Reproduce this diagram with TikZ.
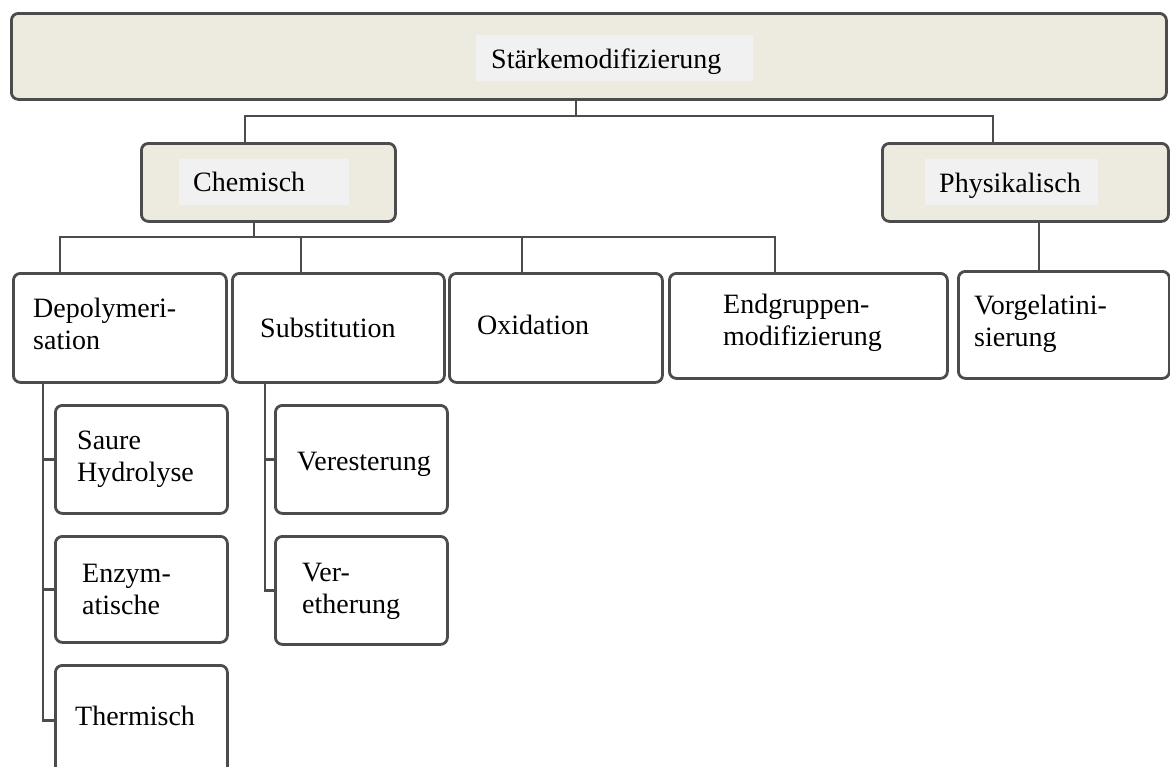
\documentclass[tikz,border=0pt]{standalone}
\usepackage{fontspec}
\setmainfont{Liberation Serif}
\definecolor{lineC}{HTML}{4C4C4C}
\definecolor{beige}{HTML}{EDEADF}
\definecolor{lblbg}{HTML}{F1F1F1}
\begin{document}
\begin{tikzpicture}[x=1pt,y=-1pt,
  box/.style={draw=lineC, line width=2.8pt, rounded corners=7pt, fill=white, anchor=north west, inner sep=0pt},
  headbox/.style={box, fill=beige},
  lblbox/.style={fill=lblbg, anchor=north west, inner sep=0pt},
  txt/.style={anchor=west, align=left, inner sep=0pt, font=\fontsize{28}{32}\selectfont},
  conn/.style={draw=lineC, line width=2.8pt}]
\useasboundingbox (0,0) rectangle (1170,766);
\fill[white] (0,0) rectangle (1170,766);

% level 1
\node[headbox, minimum width=1155, minimum height=86] (top) at (10,12) {};
\node[lblbox, minimum width=277, minimum height=46] (topL) at (476,35) {};
\node[txt] (topT) at ([xshift=15pt,yshift=-3pt]topL.west) {Stärkemodifizierung};

% level 2
\node[headbox, minimum width=254, minimum height=78] (chem) at (140,142) {};
\node[lblbox, minimum width=170, minimum height=46] (chemL) at (179,159) {};
\node[txt] (chemT) at ([xshift=14pt]chemL.west) {Chemisch};

\node[headbox, minimum width=286, minimum height=78] (phys) at (881,142) {};
\node[lblbox, minimum width=173, minimum height=46] (physL) at (925,159) {};
\node[txt] (physT) at ([xshift=14pt,yshift=-4pt]physL.west) {Physikalisch};

% level 3
\node[box, minimum width=213, minimum height=109] (depol) at (12,272) {};
\node[txt] (depolT) at ([xshift=21pt,yshift=4pt]depol.west) {Depolymeri-\\sation};
\node[box, minimum width=212, minimum height=109] (subst) at (231,272) {};
\node[txt] (substT) at ([xshift=29pt]subst.west) {Substitution};
\node[box, minimum width=213, minimum height=109] (oxid) at (448,272) {};
\node[txt] (oxidT) at ([xshift=29pt,yshift=3pt]oxid.west) {Oxidation};
\node[box, minimum width=278, minimum height=105] (endg) at (668,272) {};
\node[txt] (endgT) at ([xshift=55pt,yshift=3pt]endg.west) {Endgruppen-\\modifizierung};
\node[box, minimum width=211, minimum height=107] (vorg) at (957,270) {};
\node[txt] (vorgT) at ([xshift=17pt,yshift=1pt]vorg.west) {Vorgelatini-\\sierung};

% level 4
\node[box, minimum width=172, minimum height=108] (saure) at (54,404) {};
\node[txt] (saureT) at ([xshift=23pt]saure.west) {Saure\\Hydrolyse};
\node[box, minimum width=172, minimum height=106] (enz) at (54,535) {};
\node[txt] (enzT) at ([xshift=28pt]enz.west) {Enzym-\\atische};
\node[box, minimum width=172, minimum height=110] (therm) at (54,664) {};
\node[txt] (thermT) at ([xshift=21pt,yshift=4pt]therm.west) {Thermisch};
\node[box, minimum width=172, minimum height=108] (vest) at (274,404) {};
\node[txt] (vestT) at ([xshift=23pt,yshift=-5pt]vest.west) {Veresterung};
\node[box, minimum width=172, minimum height=108] (veth) at (274,535) {};
\node[txt] (vethT) at ([xshift=28pt,yshift=-1pt]veth.west) {Ver-\\etherung};

% connectors level 1 -> 2
\coordinate (bus1) at (576,116);
\coordinate (dChem) at ([xshift=105pt]chem.north west);
\coordinate (dPhys) at ([xshift=112pt]phys.north west);
\draw[conn] (top.south -| bus1) -- (bus1);
\draw[conn] (dChem) -- (dChem |- bus1) -- (dPhys |- bus1) -- (dPhys);

% connectors chemisch -> level 3
\coordinate (bus2) at (254,237);
\coordinate (dDep) at ([xshift=48pt]depol.north west);
\coordinate (dSub) at ([xshift=70pt]subst.north west);
\coordinate (dOx) at ([xshift=74pt]oxid.north west);
\coordinate (dEnd) at ([xshift=107pt]endg.north west);
\draw[conn] (chem.south -| bus2) -- (bus2);
\draw[conn] (dDep) -- (dDep |- bus2) -- (dEnd |- bus2) -- (dEnd);
\draw[conn] (dSub) -- (dSub |- bus2);
\draw[conn] (dOx) -- (dOx |- bus2);

% physikalisch -> vorgelatinisierung
\coordinate (dVorg) at ([xshift=82pt]vorg.north west);
\draw[conn] (phys.south -| dVorg) -- (dVorg);

% depolymerisation children
\coordinate (vDep) at ([xshift=31pt]depol.south west);
\draw[conn] (vDep) |- (therm.west);
\draw[conn] (vDep |- saure.west) -- (saure.west);
\draw[conn] (vDep |- enz.west) -- (enz.west);

% substitution children
\coordinate (vSub) at ([xshift=34pt]subst.south west);
\draw[conn] (vSub) |- (veth.west);
\draw[conn] (vSub |- vest.west) -- (vest.west);
\end{tikzpicture}
\end{document}
